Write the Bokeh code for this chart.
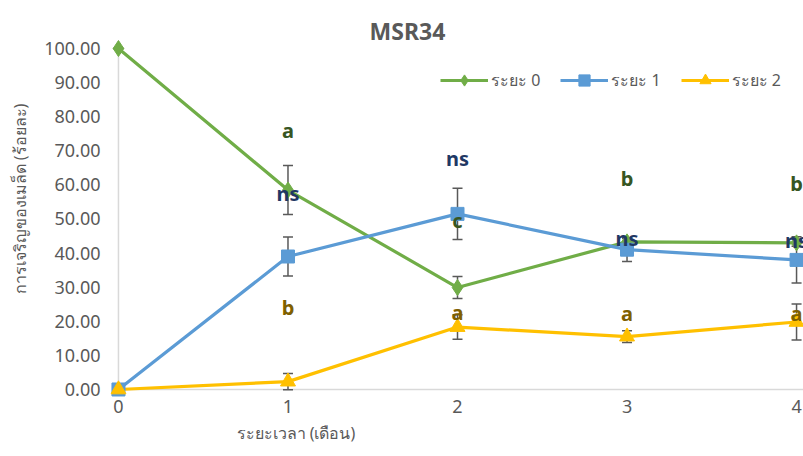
from bokeh.plotting import figure
from bokeh.models import (Legend, LegendItem, FixedTicker, NumeralTickFormatter,
                          Label, ColumnDataSource, Range1d, Title)
from bokeh.embed import file_html
from bokeh.resources import INLINE
from bokeh.core.properties import value

# ---------------- data ----------------
months = [0, 1, 2, 3, 4]
y_ticks = [0, 10, 20, 30, 40, 50, 60, 70, 80, 90, 100]
series_names = ["ระยะ 0", "ระยะ 1", "ระยะ 2"]

stage0 = [100.0, 58.5, 29.9, 43.3, 43.0]
stage0_err = [0.0, 7.2, 3.2, 1.0, 1.0]
stage1 = [0.0, 39.0, 51.5, 41.0, 38.0]
stage1_err = [0.0, 5.7, 7.5, 3.5, 6.8]
stage2 = [0.0, 2.3, 18.3, 15.5, 19.8]
stage2_err = [0.0, 2.4, 3.6, 1.7, 5.3]

label_months = [1, 2, 3, 4]
stage0_letters = ["a", "c", "b", "b"]
stage0_letter_y = [75.9, 49.6, 61.9, 60.4]
stage1_letters = ["ns", "ns", "ns", "ns"]
stage1_letter_y = [57.5, 67.7, 44.3, 43.7]
stage2_letters = ["b", "a", "a", "a"]
stage2_letter_y = [24.0, 22.6, 22.3, 22.3]

title_text = "MSR34"
x_title = "ระยะเวลา (เดือน)"
y_title = "การเจริญของเมล็ด (ร้อยละ)"

# ---------------- styles ----------------
colors = ["#70AD47", "#5B9BD5", "#FFC000"]
markers = ["diamond", "square", "triangle"]
marker_sizes = [16, 13, 15]
letter_colors = ["#375623", "#1F3864", "#7F6000"]
grey = "#595959"
FONT = "Noto Sans"

p = figure(width=803, height=456, output_backend="svg", toolbar_location=None,
           x_range=Range1d(-0.047, 4.041), y_range=Range1d(-2.35, 114.08),
           min_border_left=110, min_border_right=0, min_border_top=0,
           min_border_bottom=59, outline_line_color=None)
p.background_fill_color = "white"
p.border_fill_color = "white"
p.xgrid.grid_line_color = None
p.ygrid.grid_line_color = None

# axes
for ax in (p.xaxis[0], p.yaxis[0]):
    ax.axis_line_color = None
    ax.major_tick_line_color = None
    ax.minor_tick_line_color = None
    ax.major_tick_out = 0
    ax.major_tick_in = 0
    ax.major_label_text_color = grey
    ax.major_label_text_font = FONT
    ax.major_label_text_font_size = "18px"
p.xaxis.ticker = FixedTicker(ticks=months)
p.xaxis.major_label_standoff = 2
p.yaxis.ticker = FixedTicker(ticks=y_ticks)
p.yaxis.formatter = NumeralTickFormatter(format="0.00")
p.yaxis.major_label_standoff = 10
p.yaxis.axis_label = y_title
p.yaxis.axis_label_text_font = FONT
p.yaxis.axis_label_text_font_size = "16px"
p.yaxis.axis_label_text_font_style = "normal"
p.yaxis.axis_label_text_color = grey
p.yaxis.axis_label_standoff = 10

# axis lines (light grey)
p.segment(x0=[months[0]], y0=[y_ticks[0]], x1=[months[0]], y1=[y_ticks[-1]],
          line_color="#D9D9D9", line_width=1.5)
p.segment(x0=[months[0]], y0=[y_ticks[0]], x1=[months[-1] + 1], y1=[y_ticks[0]],
          line_color="#D9D9D9", line_width=1.5)

series = [stage0, stage1, stage2]
errs = [stage0_err, stage1_err, stage2_err]

line_rs = []
for vals, c in zip(series, colors):
    line_rs.append(p.line(months, vals, line_color=c, line_width=3.2))

# error bars
for vals, e in zip(series, errs):
    lo = [v - d for v, d in zip(vals, e)]
    hi = [v + d for v, d in zip(vals, e)]
    src = ColumnDataSource(dict(x=months, lo=lo, hi=hi))
    p.segment(x0="x", y0="lo", x1="x", y1="hi", source=src, line_color=grey, line_width=1.5)
    p.scatter(x="x", y="lo", source=src, marker="dash", size=10, line_color=grey, line_width=1.5)
    p.scatter(x="x", y="hi", source=src, marker="dash", size=10, line_color=grey, line_width=1.5)

scatter_rs = []
for vals, c, m, s in zip(series, colors, markers, marker_sizes):
    scatter_rs.append(p.scatter(months, vals, marker=m, size=s, fill_color=c, line_color=c))

# significance letters
for letters, ly, c in zip([stage0_letters, stage1_letters, stage2_letters],
                          [stage0_letter_y, stage1_letter_y, stage2_letter_y],
                          letter_colors):
    src = ColumnDataSource(dict(x=label_months, y=ly, t=letters))
    p.text(x="x", y="y", text="t", source=src, text_color=c,
           text_font=value(FONT), text_font_style="bold", text_font_size="20px",
           text_align="center", text_baseline="middle")

# title
p.add_layout(Label(x=1.705, y=105.0, text=title_text, text_font=FONT,
                   text_font_style="bold", text_font_size="23px", text_color=grey,
                   text_align="center", text_baseline="middle"))
# x axis title
p.add_layout(Title(text=x_title, align="left", offset=126, standoff=9,
                   text_font=FONT, text_font_size="16px", text_font_style="normal",
                   text_color=grey), "below")

legend = Legend(items=[LegendItem(label=n, renderers=[lr, sr])
                       for n, lr, sr in zip(series_names, line_rs, scatter_rs)],
                orientation="horizontal", location=(330, 303),
                glyph_width=48, glyph_height=28, label_standoff=3, spacing=20,
                padding=0, margin=0, border_line_color=None,
                background_fill_alpha=0,
                label_text_font=FONT, label_text_font_size="16px",
                label_text_color=grey)
p.add_layout(legend)

open("out.html", "w").write(file_html(p, INLINE))
